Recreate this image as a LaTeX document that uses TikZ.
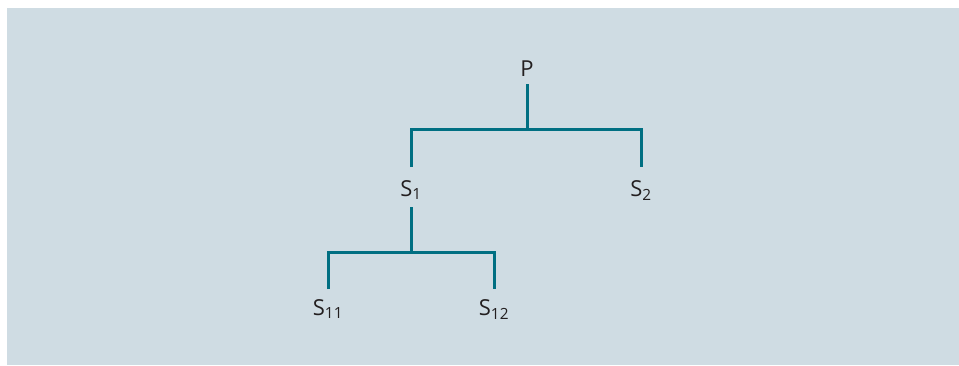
\documentclass[tikz,border=0pt]{standalone}
\usepackage{fontspec}
\setmainfont{Open Sans}
\definecolor{bgc}{RGB}{207,220,227}
\definecolor{linkc}{RGB}{0,111,130}
\definecolor{txtc}{RGB}{35,31,32}
\begin{document}
\begin{tikzpicture}[x=1pt,y=-1pt,
  lbl/.style={anchor=base,inner sep=0pt,text=txtc,font=\fontsize{22}{26}\selectfont},
  link/.style={draw=linkc,line width=3pt,line cap=butt,line join=miter}]
\useasboundingbox (0,0) rectangle (959,365);
\fill[bgc] (7,8) rectangle (959,365);
% labels
\node[lbl] (P) at (527,76) {P};
\node[lbl] (S1) at (411,196) {S\textsubscript{1}};
\node[lbl] (S2) at (641,196) {S\textsubscript{2}};
\node[lbl] (S11) at (328,315) {S\textsubscript{11}};
\node[lbl] (S12) at (494,315) {S\textsubscript{12}};
% connector end points
\coordinate (Pb) at (527,84);
\coordinate (S1t) at (411,167);
\coordinate (S2t) at (641,167);
\coordinate (S1b) at (411,207);
\coordinate (S11t) at (328,289);
\coordinate (S12t) at (494,289);
\coordinate (J1) at (527,129.5);
\coordinate (J2) at (411,252.5);
% connectors
\draw[link] (Pb) -- (J1);
\draw[link] (S1t) -- (S1t |- J1) -- (S2t |- J1) -- (S2t);
\draw[link] (S1b) -- (J2);
\draw[link] (S11t) -- (S11t |- J2) -- (S12t |- J2) -- (S12t);
\end{tikzpicture}
\end{document}
